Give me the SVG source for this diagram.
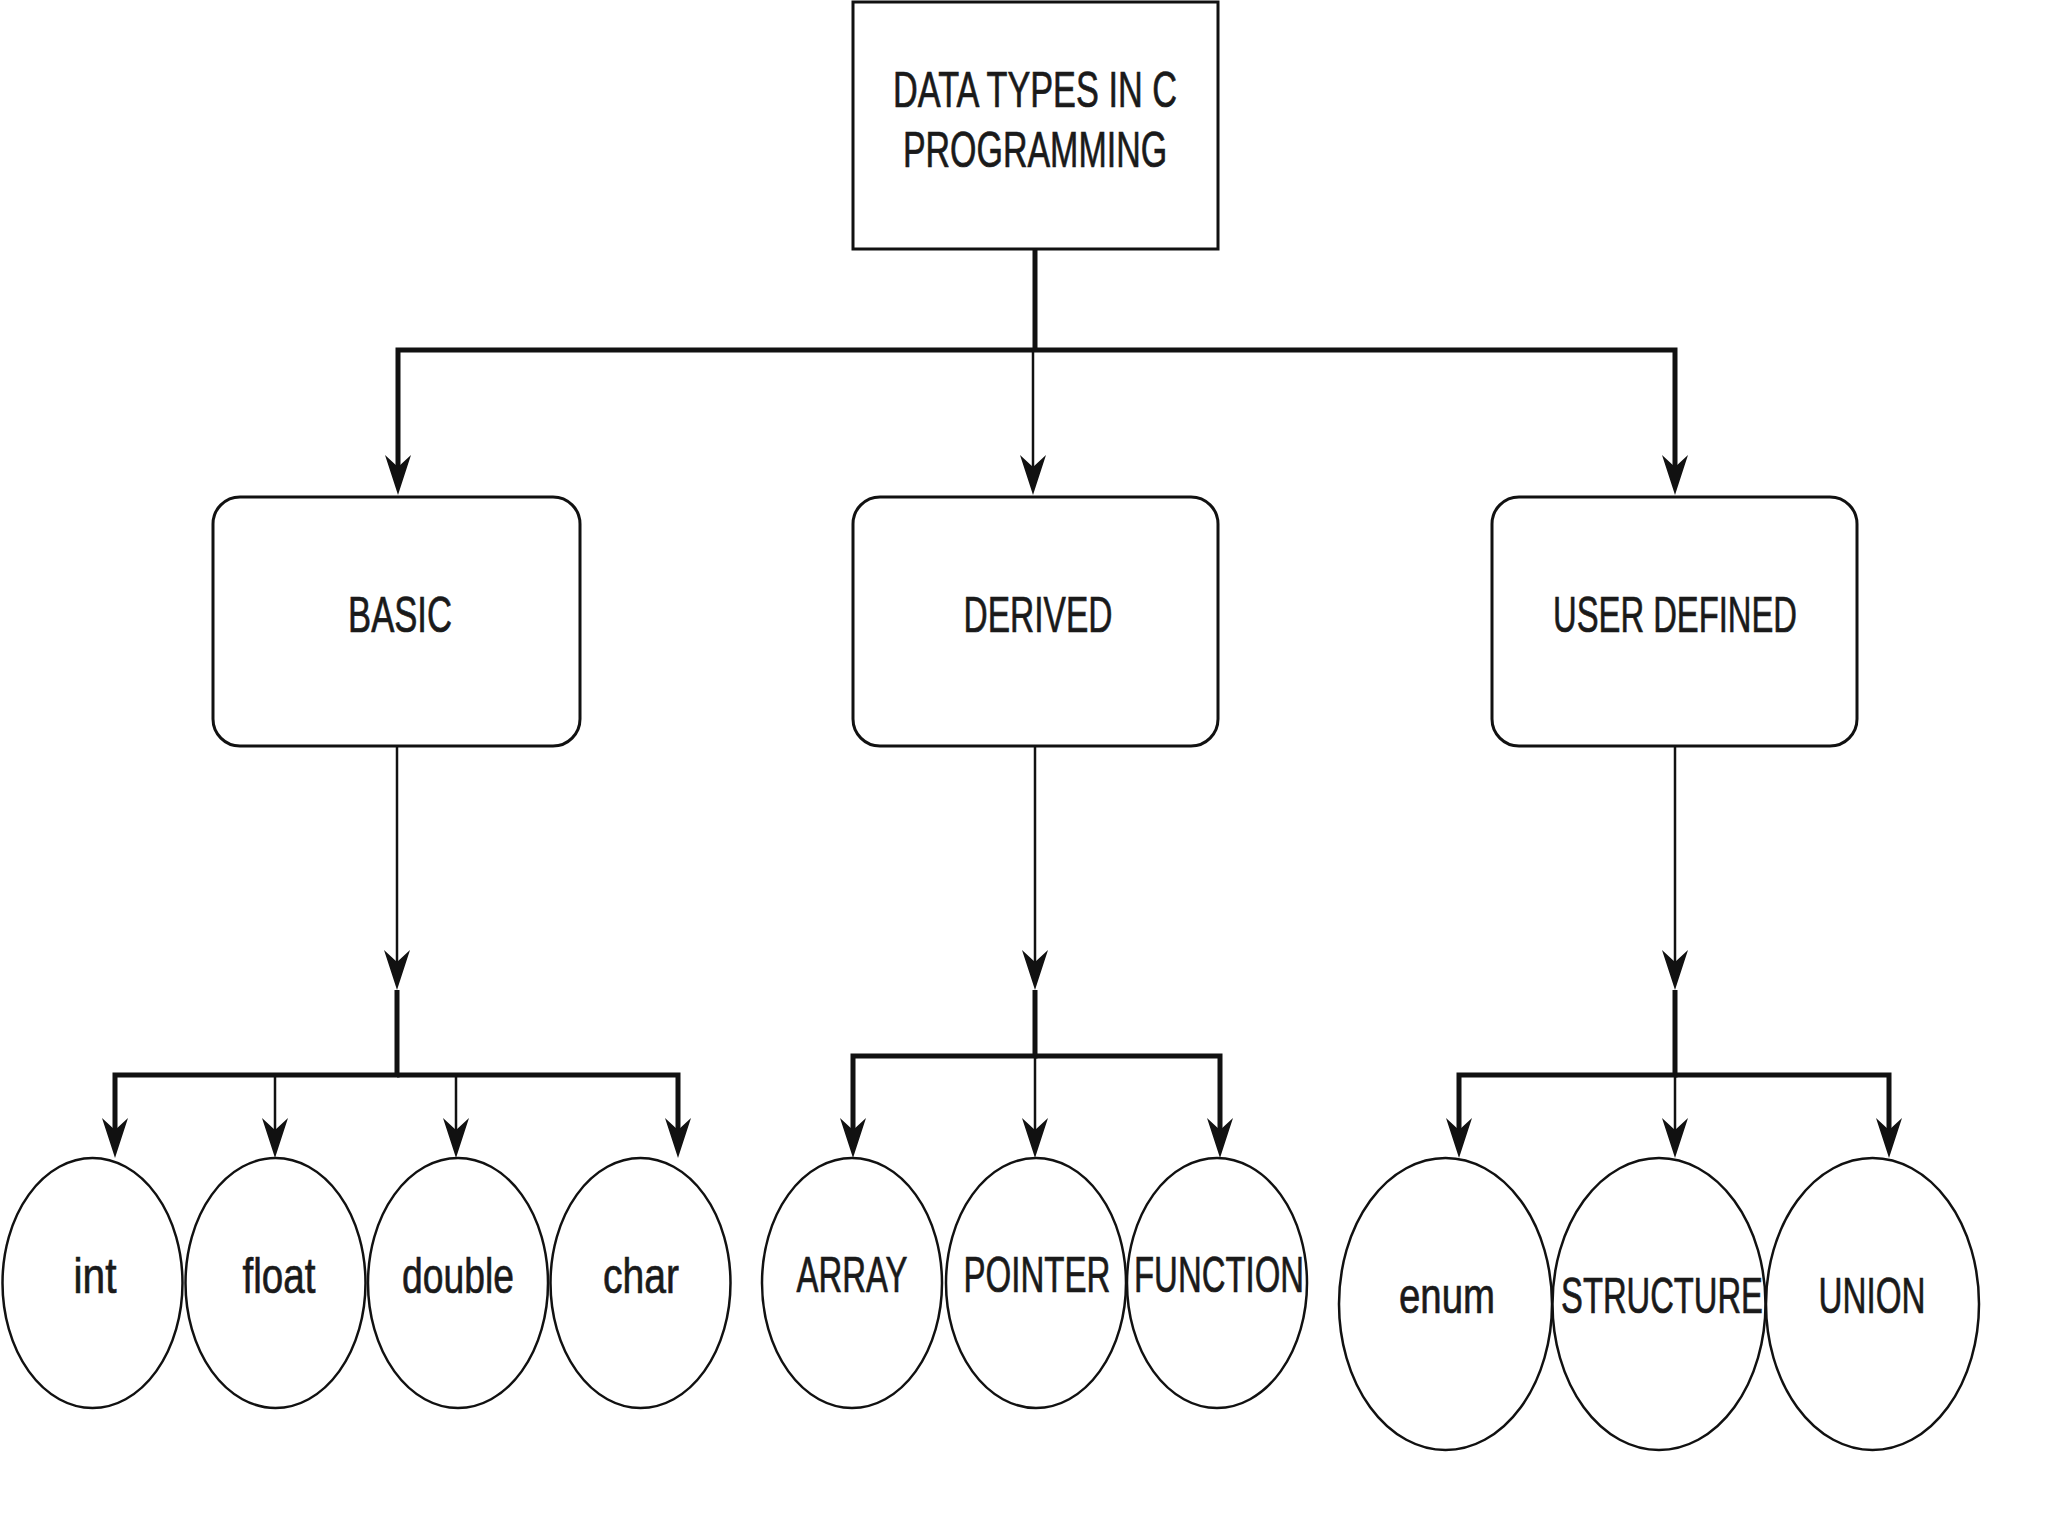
<svg xmlns="http://www.w3.org/2000/svg" width="2048" height="1536" viewBox="0 0 2048 1536">
<defs>
<style>
.box{fill:#fff;stroke:#111;stroke-width:3}
.ell{fill:#fff;stroke:#111;stroke-width:2.5}
.lbl{font-family:"Liberation Sans","DejaVu Sans",Arial,sans-serif;font-size:50px;fill:#1a1a1a;stroke:#1a1a1a;stroke-width:0.7;text-anchor:middle}
.thick{fill:none;stroke:#111;stroke-width:5;stroke-linejoin:miter}
.thin{fill:none;stroke:#111;stroke-width:2.5}
</style>
<marker id="arr" markerUnits="userSpaceOnUse" orient="auto" refX="0" refY="0" markerWidth="60" markerHeight="40" overflow="visible">
<path d="M20,0 L-20,-13 L-8,0 L-20,13 Z" fill="#111"/>
</marker>
</defs>
<rect width="2048" height="1536" fill="#fff"/>
<g id="connectors">
<path class="thick" d="M1035,249 V350"/>
<path class="thick" d="M1035,350 H398 V475" marker-end="url(#arr)"/>
<path class="thick" d="M1035,350 H1675 V475" marker-end="url(#arr)"/>
<path class="thin" d="M1033,350 V475" marker-end="url(#arr)"/>
<path class="thin" d="M397,746 V970" marker-end="url(#arr)"/>
<path class="thick" d="M397,990 V1075 H115 V1138" marker-end="url(#arr)"/>
<path class="thick" d="M397,1075 H678 V1138" marker-end="url(#arr)"/>
<path class="thin" d="M397,1075 H275 V1138" marker-end="url(#arr)"/>
<path class="thin" d="M397,1075 H456 V1138" marker-end="url(#arr)"/>
<path class="thin" d="M1035,746 V970" marker-end="url(#arr)"/>
<path class="thick" d="M1035,990 V1056 H853 V1138" marker-end="url(#arr)"/>
<path class="thick" d="M1035,1056 H1220 V1138" marker-end="url(#arr)"/>
<path class="thin" d="M1035,990 V1138" marker-end="url(#arr)"/>
<path class="thin" d="M1675,746 V970" marker-end="url(#arr)"/>
<path class="thick" d="M1675,990 V1075 H1459 V1138" marker-end="url(#arr)"/>
<path class="thick" d="M1675,1075 H1889 V1138" marker-end="url(#arr)"/>
<path class="thin" d="M1675,990 V1138" marker-end="url(#arr)"/>
</g>
<g id="root">
<rect class="box" x="853" y="2" width="365" height="247"/>
<text class="lbl" transform="translate(1035,107) scale(0.668,1)" textLength="425" lengthAdjust="spacingAndGlyphs">DATA TYPES IN C</text>
<text class="lbl" transform="translate(1035,167) scale(0.679,1)" textLength="389" lengthAdjust="spacingAndGlyphs">PROGRAMMING</text>
</g>
<g id="basic">
<rect class="box" x="213" y="497" width="367" height="249" rx="27"/>
<text class="lbl" transform="translate(400,632) scale(0.693,1)" textLength="150" lengthAdjust="spacingAndGlyphs">BASIC</text>
</g>
<g id="derived">
<rect class="box" x="853" y="497" width="365" height="249" rx="27"/>
<text class="lbl" transform="translate(1038,632) scale(0.671,1)" textLength="222" lengthAdjust="spacingAndGlyphs">DERIVED</text>
</g>
<g id="userdefined">
<rect class="box" x="1492" y="497" width="365" height="249" rx="27"/>
<text class="lbl" transform="translate(1675,632) scale(0.656,1)" textLength="372" lengthAdjust="spacingAndGlyphs">USER DEFINED</text>
</g>
<g id="int">
<ellipse class="ell" cx="92.5" cy="1283" rx="90" ry="125"/>
<text class="lbl" transform="translate(95,1293) scale(0.81,1)" textLength="53" lengthAdjust="spacingAndGlyphs">int</text>
</g>
<g id="float">
<ellipse class="ell" cx="275.5" cy="1283" rx="90" ry="125"/>
<text class="lbl" transform="translate(279,1293) scale(0.772,1)" textLength="94.5" lengthAdjust="spacingAndGlyphs">float</text>
</g>
<g id="double">
<ellipse class="ell" cx="458" cy="1283" rx="90" ry="125"/>
<text class="lbl" transform="translate(458,1293) scale(0.746,1)" textLength="150" lengthAdjust="spacingAndGlyphs">double</text>
</g>
<g id="char">
<ellipse class="ell" cx="640.5" cy="1283" rx="90" ry="125"/>
<text class="lbl" transform="translate(641,1293) scale(0.781,1)" textLength="97.3" lengthAdjust="spacingAndGlyphs">char</text>
</g>
<g id="array">
<ellipse class="ell" cx="852" cy="1283" rx="90" ry="125"/>
<text class="lbl" transform="translate(852,1292) scale(0.645,1)" textLength="172" lengthAdjust="spacingAndGlyphs">ARRAY</text>
</g>
<g id="pointer">
<ellipse class="ell" cx="1036" cy="1283" rx="90" ry="125"/>
<text class="lbl" transform="translate(1037,1292) scale(0.661,1)" textLength="222.3" lengthAdjust="spacingAndGlyphs">POINTER</text>
</g>
<g id="function">
<ellipse class="ell" cx="1217" cy="1283" rx="90" ry="125"/>
<text class="lbl" transform="translate(1219,1292) scale(0.658,1)" textLength="258.3" lengthAdjust="spacingAndGlyphs">FUNCTION</text>
</g>
<g id="enum">
<ellipse class="ell" cx="1445.5" cy="1304" rx="106.5" ry="146"/>
<text class="lbl" transform="translate(1447,1313) scale(0.768,1)" textLength="125" lengthAdjust="spacingAndGlyphs">enum</text>
</g>
<g id="structure">
<ellipse class="ell" cx="1659" cy="1304" rx="106.5" ry="146"/>
<text class="lbl" transform="translate(1662,1313) scale(0.655,1)" textLength="308.3" lengthAdjust="spacingAndGlyphs">STRUCTURE</text>
</g>
<g id="union">
<ellipse class="ell" cx="1872.5" cy="1304" rx="106.5" ry="146"/>
<text class="lbl" transform="translate(1872,1313) scale(0.664,1)" textLength="161.1" lengthAdjust="spacingAndGlyphs">UNION</text>
</g>
</svg>
